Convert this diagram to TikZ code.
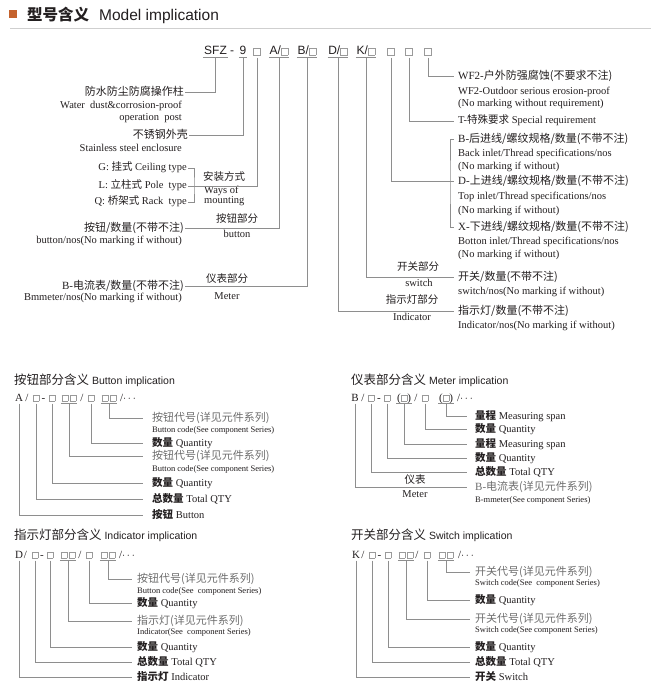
\documentclass[tikz,border=0pt]{standalone}
\usepackage{fontspec}
\usepackage{xcolor}
\usetikzlibrary{positioning}
\setmainfont{Liberation Serif}
\setsansfont{Liberation Sans}
\newfontfamily\zhfont{Noto Sans CJK SC}
\newcommand\cn[1]{{\zhfont #1}}
\newcommand\cnb[1]{{\zhfont\bfseries #1}}
\definecolor{Ink}{HTML}{231F20}
\definecolor{Muted}{HTML}{6E6E6E}
\definecolor{Line}{HTML}{8E8E8E}
\definecolor{Rule}{HTML}{CFCFCF}
\definecolor{Rust}{HTML}{C4622D}
\definecolor{Sq}{HTML}{9A9A9A}
\newcommand\sqbox[1][5.5pt]{{\color{Sq}\setlength\fboxsep{0pt}\setlength\fboxrule{0.5pt}\fbox{\rule{0pt}{#1}\rule{#1}{0pt}}}}
\tikzset{
  ln/.style={draw=Line,line width=0.6pt},
  ul/.style={draw=Line,line width=0.5pt},
  code/.style={anchor=base,inner xsep=0.5pt,inner ysep=0.5pt,text depth=2pt,font=\sffamily\fontsize{12}{13}\selectfont,text=Ink},
  pcode/.style={anchor=base,inner xsep=0.5pt,inner ysep=0.5pt,text depth=2pt,font=\fontsize{11}{12}\selectfont,text=Ink},
  zhl/.style={inner xsep=1pt,inner ysep=0pt,text height=8pt,text depth=1.5pt,font=\zhfont\fontsize{11}{12}\selectfont,text=Ink},
  enl/.style={inner xsep=1pt,inner ysep=0pt,text height=7.5pt,text depth=2pt,font=\fontsize{10.5}{12}\selectfont,text=Ink},
  part/.style={inner sep=0pt,text height=8pt,text depth=1.5pt,font=\zhfont\fontsize{10.5}{12}\selectfont,text=Ink},
  lab/.style={anchor=west,inner xsep=#1,inner ysep=0pt,text height=8pt,text depth=1.5pt,font=\fontsize{10.5}{12}\selectfont,text=Ink},
  lab/.default=5pt,
  glab/.style={anchor=west,inner xsep=#1,inner ysep=0pt,text height=8pt,text depth=1.5pt,font=\zhfont\fontsize{11}{12}\selectfont,text=Muted},
  glab/.default=5pt,
  small/.style={anchor=west,inner sep=0pt,text height=6pt,text depth=1.5pt,font=\fontsize{8.5}{9}\selectfont,text=Ink},
  sect/.style={anchor=base west,inner sep=0pt,font=\zhfont\fontsize{12.5}{14}\selectfont,text=Ink}
}
\begin{document}
\begin{tikzpicture}[x=1pt,y=-1pt]
  \useasboundingbox[fill=white] (0,0) rectangle (651,698);
  % heading
  \fill[Rust] (9,10) rectangle (17,18);
  \node[anchor=base west,inner sep=0pt,font=\zhfont\bfseries\fontsize{15.5}{16}\selectfont,text=Ink] (ttl) at (27,21) {型号含义};
  \node[anchor=base west,inner sep=0pt,font=\sffamily\fontsize{15.5}{16}\selectfont,text=Ink] (ttlen) at (99,21) {Model implication};
  \draw[draw=Rule,line width=0.8pt] (10,28) -- (651,28);

  % model code
  \node[code] (sfz) at (215.5,55) {SFZ};
  \node[code] (dsh) at (232,55) {-};
  \node[code] (nine) at (243,55) {9};
  \node[code] (mnt) at (257,55) {\sqbox[6.5pt]};
  \node[code] (btn) at (279,55) {A/\sqbox[6.5pt]};
  \node[code] (mtr) at (307,55) {B/\sqbox[6.5pt]};
  \node[code] (ind) at (338,55) {D/\sqbox[6.5pt]};
  \node[code] (swi) at (366,55) {K/\sqbox[6.5pt]};
  \node[code] (inl) at (391,55) {\sqbox[6.5pt]};
  \node[code] (spc) at (409,55) {\sqbox[6.5pt]};
  \node[code] (wf) at (428,55) {\sqbox[6.5pt]};
  \foreach \n in {sfz,nine,btn,mtr,ind,swi}
    \draw[ul] (\n.south west) -- (\n.south east);

  % left labels
  \node[zhl,anchor=east] (post) at (185,92) {防水防尘防腐操作柱};
  \node[enl,anchor=east] (posten) at (183,106) {Water\ \ dust\&corrosion-proof};
  \node[enl,anchor=east] (postop) at (183,118) {operation\ \ post};
  \node[zhl,anchor=east] (encl) at (189,135) {不锈钢外壳};
  \node[enl,anchor=east] (enclen) at (183,149) {Stainless steel enclosure};
  \node[enl,anchor=east] (ceil) at (188,168) {G: \cn{挂式} Ceiling type};
  \node[enl,anchor=east] (pole) at (188,186) {L: \cn{立柱式} Pole\ \ type};
  \node[enl,anchor=east] (rack) at (188,202) {Q: \cn{桥架式} Rack\ \ type};
  \coordinate (mntbr) at (194,186);
  \node[part,anchor=west] (way) at (203,177) {安装方式};
  \node[enl,anchor=west] (wayof) at (203,191) {Ways of};
  \node[enl,anchor=west] (waymt) at (203,201) {mounting};
  \node[zhl,anchor=east] (btnq) at (185,228) {按钮/数量(不带不注)};
  \node[enl,anchor=east] (btnqen) at (183,241) {button/nos(No marking if without)};
  \node[part] (btnpt) at (237,219) {按钮部分};
  \node[enl] (btnpten) at (237,235) {button};
  \node[zhl,anchor=east] (mtrq) at (185,286) {{\rmfamily B-}电流表/数量(不带不注)};
  \node[enl,anchor=east] (mtrqen) at (183,298) {Bmmeter/nos(No marking if without)};
  \node[part] (mtrpt) at (227,279) {仪表部分};
  \node[enl] (mtrpten) at (227,297) {Meter};

  % right labels
  \node[zhl,anchor=west,inner xsep=4pt] (wfl) at (454,76) {{\rmfamily WF2-}户外防强腐蚀(不要求不注)};
  \node[enl,anchor=west] (wfen) at (457,92) {WF2-Outdoor serious erosion-proof};
  \node[enl,anchor=west] (wfno) at (457,104) {(No marking without requirement)};
  \node[enl,anchor=west,inner xsep=4pt] (spcl) at (454,121) {T-\cn{特殊要求} Special requirement};
  \node[zhl,anchor=west,inner xsep=4pt] (inb) at (454,139) {{\rmfamily B-}后进线/螺纹规格/数量(不带不注)};
  \node[enl,anchor=west] (inben) at (457,154) {Back inlet/Thread specifications/nos};
  \node[enl,anchor=west] (inbno) at (457,167) {(No marking if without)};
  \node[zhl,anchor=west,inner xsep=4pt] (ind1) at (454,181) {{\rmfamily D-}上进线/螺纹规格/数量(不带不注)};
  \node[enl,anchor=west] (ind1en) at (457,197) {Top inlet/Thread specifications/nos};
  \node[enl,anchor=west] (ind1no) at (457,211) {(No marking if without)};
  \node[zhl,anchor=west,inner xsep=4pt] (inx) at (454,227) {{\rmfamily X-}下进线/螺纹规格/数量(不带不注)};
  \node[enl,anchor=west] (inxen) at (457,242) {Botton inlet/Thread specifications/nos};
  \node[enl,anchor=west] (inxno) at (457,255) {(No marking if without)};
  \coordinate (inlbr) at (450,181);
  \node[zhl,anchor=west,inner xsep=4pt] (swiq) at (454,277) {开关/数量(不带不注)};
  \node[enl,anchor=west] (swiqen) at (457,292) {switch/nos(No marking if without)};
  \node[part] (swipt) at (418,267) {开关部分};
  \node[enl] (swipten) at (419,284) {switch};
  \node[zhl,anchor=west,inner xsep=4pt] (indq) at (454,311) {指示灯/数量(不带不注)};
  \node[enl,anchor=west] (indqen) at (457,326) {Indicator/nos(No marking if without)};
  \node[part] (indpt) at (412,300) {指示灯部分};
  \node[enl] (indpten) at (412,318) {Indicator};

  \draw[ln] (sfz.south) |- (post.east);
  \draw[ln] (nine.south) |- (encl.east);
  \draw[ln] (mnt.south) |- (pole.east);
  \draw[ln] (ceil.east) -| (mntbr) |- (rack.east);
  \draw[ln] (btn.south) |- (btnq.east);
  \draw[ln] (mtr.south) |- (mtrq.east);
  \draw[ln] (ind.south) |- (indq.west);
  \draw[ln] (swi.south) |- (swiq.west);
  \draw[ln] (inl.south) |- (ind1.west);
  \draw[ln] (inb.west) -| (inlbr) |- (inx.west);
  \draw[ln] (spc.south) |- (spcl.west);
  \draw[ln] (wf.south) |- (wfl.west);

  % button implication
  \node[sect] (btnT) at (14,384) {按钮部分含义 {\sffamily\fontsize{10.5}{12}\selectfont Button implication}};
  \node[pcode] (bA) at (19,401) {A};
  \node[pcode] (bs1) at (27,401) {/};
  \node[pcode] (bTot) at (36,401) {\sqbox};
  \node[pcode] (bd1) at (43.5,401) {-};
  \node[pcode] (bQ1) at (52,401) {\sqbox};
  \node[pcode] (bC1) at (69,401) {\sqbox\,\sqbox};
  \node[pcode] (bs2) at (82,401) {/};
  \node[pcode] (bQ2) at (91,401) {\sqbox};
  \node[pcode] (bC2) at (109,401) {\sqbox\,\sqbox};
  \node[pcode] (bend) at (128,401) {/$\cdots$};
  \node[glab=9pt] (bl1) at (143,418) {按钮代号(详见元件系列)};
  \node[small] (bl1en) at (152,430) {Button code(See component Series)};
  \node[lab=9pt] (bl2) at (143,443) {\cnb{数量} Quantity};
  \node[glab=9pt] (bl3) at (143,456) {按钮代号(详见元件系列)};
  \node[small] (bl3en) at (152,469) {Button code(See component Series)};
  \node[lab=9pt] (bl4) at (143,483) {\cnb{数量} Quantity};
  \node[lab=9pt] (bl5) at (143,499) {\cnb{总数量} Total QTY};
  \node[lab=9pt] (bl6) at (143,515) {\cnb{按钮} Button};
  \foreach \n in {bC1,bC2}
    \draw[ul] (\n.south west) -- (\n.south east);
  \draw[ln] (bC2.south) |- (bl1.west);
  \draw[ln] (bQ2.south) |- (bl2.west);
  \draw[ln] (bC1.south) |- (bl3.west);
  \draw[ln] (bQ1.south) |- (bl4.west);
  \draw[ln] (bTot.south) |- (bl5.west);
  \draw[ln] (bA.south) |- (bl6.west);

  % meter implication
  \node[sect] (mtrT) at (351,384) {仪表部分含义 {\sffamily\fontsize{10.5}{12}\selectfont Meter implication}};
  \node[pcode] (mB) at (355,401) {B};
  \node[pcode] (ms1) at (363,401) {/};
  \node[pcode] (mTot) at (371,401) {\sqbox};
  \node[pcode] (md1) at (379,401) {-};
  \node[pcode] (mQ1) at (387,401) {\sqbox};
  \node[pcode] (mS1) at (404,401) {(\sqbox)};
  \node[pcode] (ms2) at (416,401) {/};
  \node[pcode] (mQ2) at (425,401) {\sqbox};
  \node[pcode] (mS2) at (446,401) {(\sqbox)};
  \node[pcode] (mend) at (465,401) {/$\cdots$};
  \node[lab=8pt] (ml1) at (467,416) {\cnb{量程} Measuring span};
  \node[lab=8pt] (ml2) at (467,429) {\cnb{数量} Quantity};
  \node[lab=8pt] (ml3) at (467,444) {\cnb{量程} Measuring span};
  \node[lab=8pt] (ml4) at (467,458) {\cnb{数量} Quantity};
  \node[lab=8pt] (ml5) at (467,472) {\cnb{总数量} Total QTY};
  \node[glab=8pt] (ml6) at (467,487) {{\rmfamily B-}电流表(详见元件系列)};
  \node[small] (ml6en) at (475,500) {B-mmeter(See component Series)};
  \node[part] (mtrzh) at (415,480) {仪表};
  \node[enl] (mtren) at (415,495) {Meter};
  \foreach \n in {mS1,mS2}
    \draw[ul] (\n.south west) -- (\n.south east);
  \draw[ln] (mS2.south) |- (ml1.west);
  \draw[ln] (mQ2.south) |- (ml2.west);
  \draw[ln] (mS1.south) |- (ml3.west);
  \draw[ln] (mQ1.south) |- (ml4.west);
  \draw[ln] (mTot.south) |- (ml5.west);
  \draw[ln] (mB.south) |- (ml6.west);

  % indicator implication
  \node[sect] (indT) at (14,539) {指示灯部分含义 {\sffamily\fontsize{10.5}{12}\selectfont Indicator implication}};
  \node[pcode] (iD) at (19,558) {D};
  \node[pcode] (is1) at (25.5,558) {/};
  \node[pcode] (iTot) at (35,558) {\sqbox};
  \node[pcode] (id1) at (42,558) {-};
  \node[pcode] (iQ1) at (50,558) {\sqbox};
  \node[pcode] (iC1) at (68,558) {\sqbox\,\sqbox};
  \node[pcode] (is2) at (80,558) {/};
  \node[pcode] (iQ2) at (89,558) {\sqbox};
  \node[pcode] (iC2) at (108,558) {\sqbox\,\sqbox};
  \node[pcode] (iend) at (127,558) {/$\cdots$};
  \node[glab] (il1) at (132,579) {按钮代号(详见元件系列)};
  \node[small] (il1en) at (137,591) {Button code(See\ \ component Series)};
  \node[lab] (il2) at (132,603) {\cnb{数量} Quantity};
  \node[glab] (il3) at (132,621) {指示灯(详见元件系列)};
  \node[small] (il3en) at (137,632) {Indicator(See\ \ component Series)};
  \node[lab] (il4) at (132,647) {\cnb{数量} Quantity};
  \node[lab] (il5) at (132,662) {\cnb{总数量} Total QTY};
  \node[lab] (il6) at (132,677) {\cnb{指示灯} Indicator};
  \foreach \n in {iC1,iC2}
    \draw[ul] (\n.south west) -- (\n.south east);
  \draw[ln] (iC2.south) |- (il1.west);
  \draw[ln] (iQ2.south) |- (il2.west);
  \draw[ln] (iC1.south) |- (il3.west);
  \draw[ln] (iQ1.south) |- (il4.west);
  \draw[ln] (iTot.south) |- (il5.west);
  \draw[ln] (iD.south) |- (il6.west);

  % switch implication
  \node[sect] (swiT) at (351,539) {开关部分含义 {\sffamily\fontsize{10.5}{12}\selectfont Switch implication}};
  \node[pcode] (kK) at (356,558) {K};
  \node[pcode] (ks1) at (363,558) {/};
  \node[pcode] (kTot) at (372,558) {\sqbox};
  \node[pcode] (kd1) at (379.5,558) {-};
  \node[pcode] (kQ1) at (388,558) {\sqbox};
  \node[pcode] (kC1) at (406,558) {\sqbox\,\sqbox};
  \node[pcode] (ks2) at (417,558) {/};
  \node[pcode] (kQ2) at (427,558) {\sqbox};
  \node[pcode] (kC2) at (446,558) {\sqbox\,\sqbox};
  \node[pcode] (kend) at (466,558) {/$\cdots$};
  \node[glab] (kl1) at (470,572) {开关代号(详见元件系列)};
  \node[small] (kl1en) at (475,583) {Switch code(See\ \ component Series)};
  \node[lab] (kl2) at (470,600) {\cnb{数量} Quantity};
  \node[glab] (kl3) at (470,619) {开关代号(详见元件系列)};
  \node[small] (kl3en) at (475,630) {Switch code(See component Series)};
  \node[lab] (kl4) at (470,647) {\cnb{数量} Quantity};
  \node[lab] (kl5) at (470,662) {\cnb{总数量} Total QTY};
  \node[lab] (kl6) at (470,677) {\cnb{开关} Switch};
  \foreach \n in {kC1,kC2}
    \draw[ul] (\n.south west) -- (\n.south east);
  \draw[ln] (kC2.south) |- (kl1.west);
  \draw[ln] (kQ2.south) |- (kl2.west);
  \draw[ln] (kC1.south) |- (kl3.west);
  \draw[ln] (kQ1.south) |- (kl4.west);
  \draw[ln] (kTot.south) |- (kl5.west);
  \draw[ln] (kK.south) |- (kl6.west);
\end{tikzpicture}
\end{document}
